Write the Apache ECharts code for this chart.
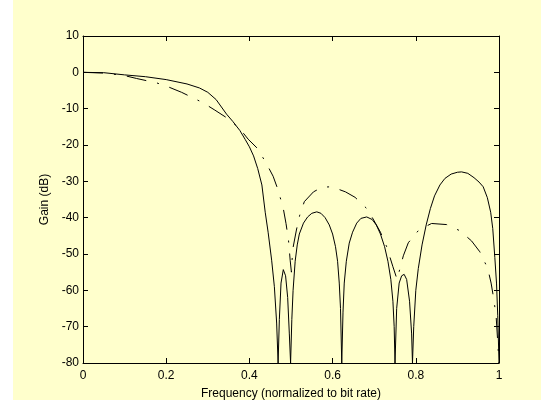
<!DOCTYPE html>
<html><head><meta charset="utf-8">
<script src="https://cdn.jsdelivr.net/npm/echarts@6/dist/echarts.min.js"></script>
<style>html,body{margin:0;padding:0;background:#fff}#c{width:541px;height:405px}</style>
</head><body><div id="c"></div>
<script>
// Frequency (normalized to bit rate) and gain (dB) for the solid curve
const solidFreq = [0,0.05,0.1,0.15,0.2,0.25,0.28,0.3,0.32,0.345,0.36,0.377,0.39,0.4,0.41,0.42,0.43,0.438,0.445,0.4535,0.46,0.4655,0.469,
  0.472,0.476,0.4815,0.487,0.492,0.496,0.499,
  0.502,0.505,0.51,0.515,0.52,0.53,0.54,0.55,0.562,0.572,0.582,0.592,0.6,0.607,0.612,0.616,0.619,0.622,
  0.625,0.628,0.633,0.64,0.648,0.658,0.668,0.682,0.695,0.705,0.715,0.725,0.733,0.74,0.745,0.748,0.75,
  0.754,0.76,0.766,0.772,0.778,0.785,0.79,0.792,
  0.795,0.8,0.806,0.815,0.825,0.835,0.845,0.858,0.87,0.885,0.9,0.91,0.925,0.94,0.952,0.962,0.972,0.98,0.985,0.99,0.994,0.997,1.0];
const solidGain = [0,-0.1,-0.7,-1.2,-2.0,-3.2,-4.3,-5.5,-7.5,-11.5,-13.5,-16,-18.5,-20.5,-23,-26.5,-31,-38.5,-44,-51.7,-59,-69,-80,
  -68,-58,-54.3,-56,-62,-72,-80,
  -68,-60,-52,-47.5,-44.5,-41.5,-39.8,-38.8,-38.4,-38.8,-40,-42,-44.5,-48,-52,-58,-65,-80,
  -66,-58,-52,-47,-44,-41.5,-40.2,-39.8,-40.5,-42,-44.5,-48,-52,-57,-63,-70,-80,
  -65,-58,-56,-55.6,-57,-63,-72,-80,
  -70,-60,-54,-47.5,-42,-37.5,-34,-31,-29.2,-28,-27.5,-27.4,-27.8,-29,-30.2,-31.5,-34.5,-38.5,-43,-51,-58,-67,-80];
// Dash-dot curve
const dashFreq = [0,0.05,0.1,0.129,0.177,0.205,0.237,0.289,0.317,0.344,0.376,0.397,0.419,0.44,0.457,0.469,0.4815,0.488,0.494,0.498,0.501,0.504,0.513,0.521,0.532,0.554,0.575,0.598,0.631,0.654,0.684,0.70,0.715,0.73,0.745,0.755,0.77,0.782,0.808,0.838,0.874,0.906,0.934,0.954,0.973,0.981,0.986,0.993,1.0];
const dashGain = [0,-0.2,-0.9,-1.7,-2.9,-4.0,-5.5,-8.4,-10.4,-12.4,-15.4,-18.4,-20.9,-24.9,-28.6,-32.4,-37.5,-41.6,-46.2,-51.7,-55,-48.8,-43.4,-39.3,-35.6,-32.9,-31.6,-31.5,-32.9,-34.4,-37.7,-40.9,-44,-48,-53.5,-57,-50.5,-46.9,-43.3,-41.6,-41.9,-43.6,-46.4,-49.4,-54.0,-58,-61.4,-66.9,-80];
const xTicks = [0,0.2,0.4,0.6,0.8,1];
const yTicks = [-80,-70,-60,-50,-40,-30,-20,-10,0,10];

const solidData = solidFreq.map((f,i)=>[f,solidGain[i]]);
const dashData = dashFreq.map((f,i)=>[f,dashGain[i]]);
const font = 'Liberation Sans, Arial, sans-serif';
const chart = echarts.init(document.getElementById('c'), null, {renderer:'canvas'});
const tick = {show:true, inside:true, length:5, lineStyle:{color:'#000',width:1}};
const line = {show:true, onZero:false, lineStyle:{color:'#000',width:1}};
chart.setOption({
  animation:false,
  backgroundColor:'#fff',
  graphic:[{type:'rect', z:-10, shape:{x:13,y:0,width:528,height:400}, style:{fill:'#FFFFCC'}}],
  grid:{left:83,right:42,top:36,bottom:42,containLabel:false},
  xAxis:[
    {type:'value',position:'bottom',min:xTicks[0],max:xTicks[xTicks.length-1],interval:0.2,
     name:'Frequency (normalized to bit rate)',nameLocation:'middle',nameGap:25,
     nameTextStyle:{color:'#000',fontFamily:font,fontSize:12},
     axisLine:line,axisTick:tick,splitLine:{show:false},
     axisLabel:{color:'#000',fontFamily:font,fontSize:12,margin:7}},
    {type:'value',position:'top',min:0,max:1,interval:0.2,
     axisLine:line,axisTick:tick,splitLine:{show:false},axisLabel:{show:false}}
  ],
  yAxis:[
    {type:'value',position:'left',min:yTicks[0],max:yTicks[yTicks.length-1],interval:10,
     name:'Gain (dB)',nameLocation:'middle',nameGap:30,
     nameTextStyle:{color:'#000',fontFamily:font,fontSize:12},
     axisLine:line,axisTick:tick,splitLine:{show:false},
     axisLabel:{color:'#000',fontFamily:font,fontSize:12,margin:4}},
    {type:'value',position:'right',min:-80,max:10,interval:10,
     axisLine:line,axisTick:tick,splitLine:{show:false},axisLabel:{show:false}}
  ],
  series:[
    {type:'line',data:solidData,showSymbol:false,symbol:'none',clip:true,
     lineStyle:{color:'#000',width:1}},
    {type:'line',data:dashData,showSymbol:false,symbol:'none',clip:true,
     lineStyle:{color:'#000',width:1,type:[20,11,2,11]}}
  ]
});
</script></body></html>
